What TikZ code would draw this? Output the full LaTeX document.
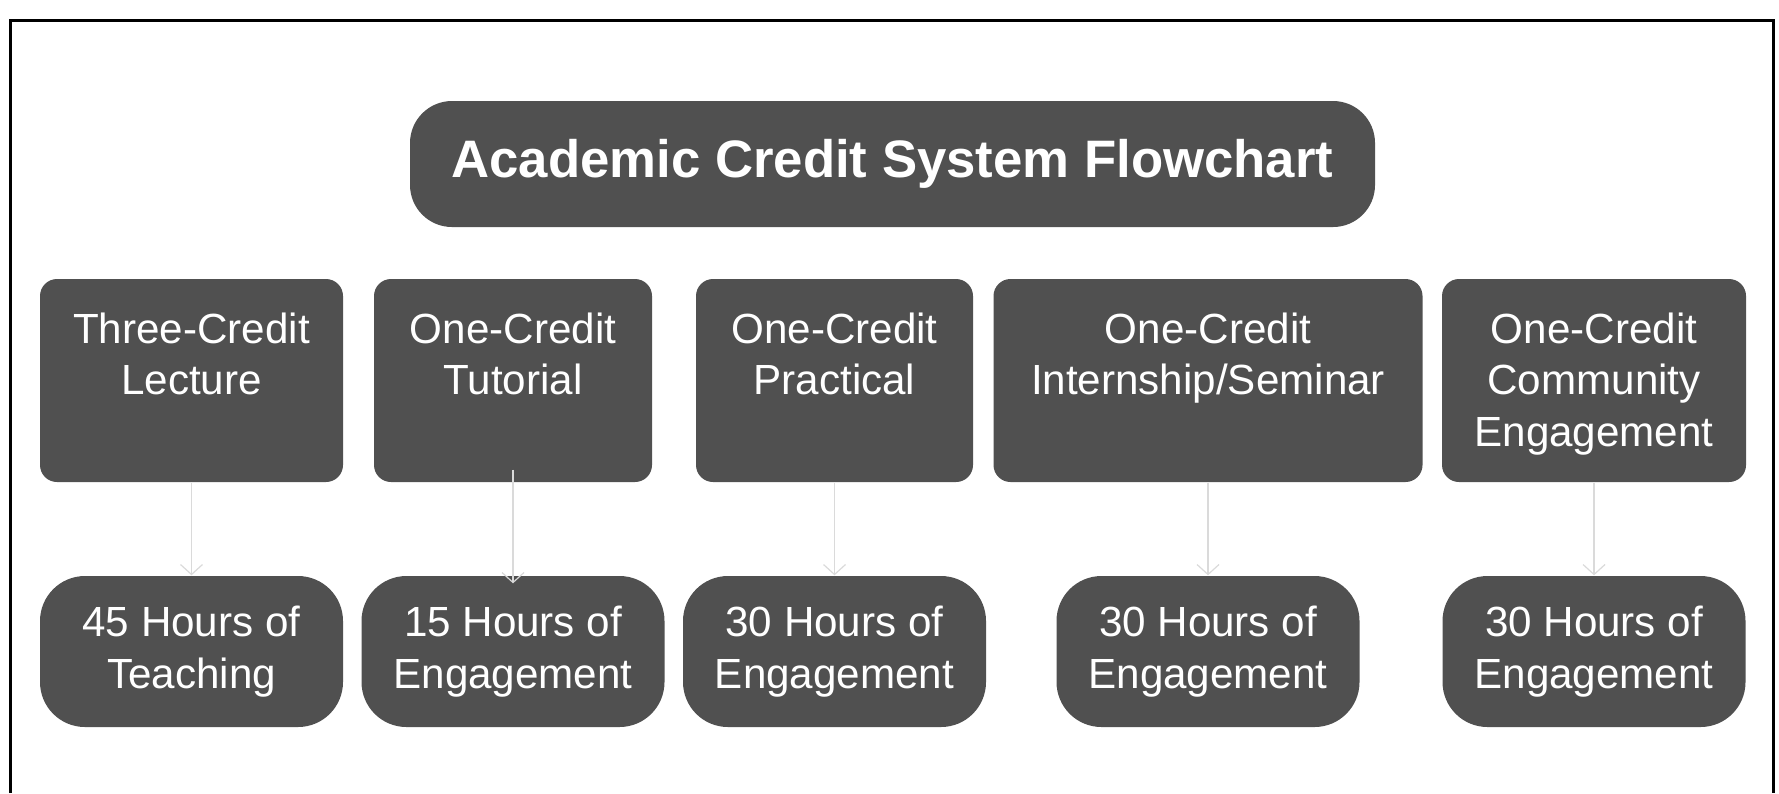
\documentclass[tikz,border=0pt]{standalone}
\usepackage{fontspec}
\setmainfont{Liberation Sans}
\usetikzlibrary{arrows.meta}

\definecolor{boxgray}{RGB}{80,80,80}
\definecolor{arrowgray}{RGB}{218,218,218}

\begin{document}
\begin{tikzpicture}
            \useasboundingbox (0,0) rectangle (17.79,-7.93);
            \draw[line width=0.03cm] (0.10,-7.93) -- (0.10,-0.20) -- (17.73,-0.20) -- (17.73,-7.93);

            \node[fill=boxgray, text=white, rounded corners=0.42cm, minimum width=9.65cm, minimum height=1.26cm,
                font=\fontsize{15}{18}\selectfont\bfseries] (title) at (8.925,-1.64) {Academic Credit System Flowchart};

            \begin{scope}[
                    every node/.style={fill=boxgray, rounded corners=0.17cm, minimum height=2.03cm}
                ]
                \node[minimum width=3.03cm] (t1) at (1.915,-3.805) {};
                \node[minimum width=2.78cm] (t2) at (5.13,-3.805) {};
                \node[minimum width=2.77cm] (t3) at (8.345,-3.805) {};
                \node[minimum width=4.29cm] (t4) at (12.08,-3.805) {};
                \node[minimum width=3.04cm] (t5) at (15.94,-3.805) {};
            \end{scope}
            \begin{scope}[
                    every node/.style={text=white, align=center, anchor=north, inner sep=0pt,
                        font=\fontsize{12}{14.6}\selectfont}
                ]
                \node (t1txt) at ([yshift=-0.34cm]t1.north) {Three-Credit\\Lecture};
                \node (t2txt) at ([yshift=-0.34cm]t2.north) {One-Credit\\Tutorial};
                \node (t3txt) at ([yshift=-0.34cm]t3.north) {One-Credit\\Practical};
                \node (t4txt) at ([yshift=-0.34cm]t4.north) {One-Credit\\Internship/Seminar};
                \node (t5txt) at ([yshift=-0.34cm]t5.north) {One-Credit\\Community\\Engagement};
            \end{scope}
            \begin{scope}[
                    every node/.style={fill=boxgray, text=white, rounded corners=0.45cm, align=center,
                        minimum width=3.03cm, minimum height=1.51cm, font=\fontsize{12}{14.8}\selectfont}
                ]
                \node (b1) at (1.915,-6.515) {45 Hours of\\Teaching};
                \node (b2) at (5.13,-6.515) {15 Hours of\\Engagement};
                \node (b3) at (8.345,-6.515) {30 Hours of\\Engagement};
                \node (b4) at (12.08,-6.515) {30 Hours of\\Engagement};
                \node (b5) at (15.94,-6.515) {30 Hours of\\Engagement};
            \end{scope}

            \begin{scope}[
                    every edge/.style={draw=arrowgray, line width=0.012cm, -{Straight Barb[length=0.1cm, width=0.22cm]}}
                ]
                \draw (t1) edge (b1);
                \draw (t2) edge[shorten <=-0.13cm, shorten >=-0.08cm] (b2);
                \draw (t3) edge (b3);
                \draw (t4) edge (b4);
                \draw (t5) edge (b5);
            \end{scope}

        \end{tikzpicture}
\end{document}
